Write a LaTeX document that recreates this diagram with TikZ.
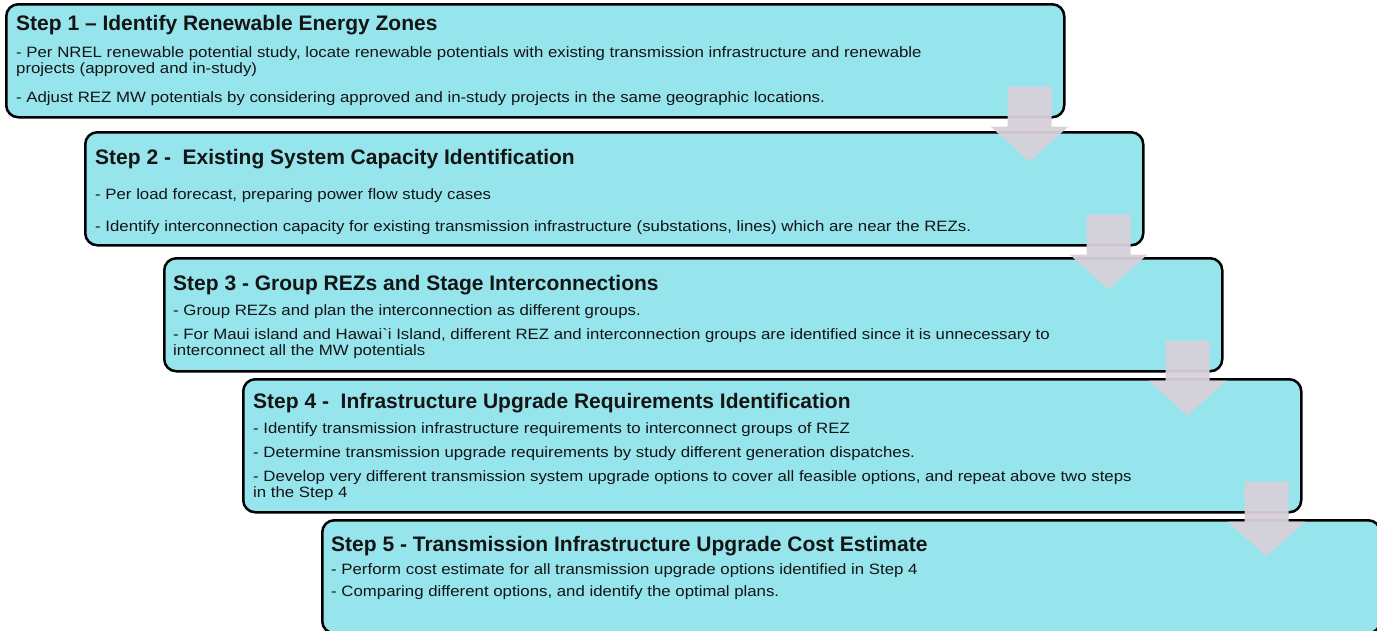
\documentclass[tikz,border=0pt]{standalone}
\usepackage{fontspec}
\setmainfont{Liberation Sans}
\newfontfamily\widebody[FakeStretch=1.12]{Liberation Sans}
\usetikzlibrary{calc}
\definecolor{rezcyan}{RGB}{150,229,237}
\definecolor{arrowgray}{RGB}{215,208,218}
\definecolor{inktext}{RGB}{20,20,20}
\tikzset{
  stepbox/.style={draw=black, line width=2.5pt, fill=rezcyan, rounded corners=12pt, minimum width=1058pt, minimum height=113pt, anchor=north west, inner sep=0pt},
  steptitle/.style={anchor=base west, inner sep=0pt, text=inktext, font=\fontsize{21}{25}\selectfont\bfseries},
  stepline/.style={anchor=base west, inner sep=0pt, text=inktext, font=\widebody\fontsize{15}{18}\selectfont},
  flowarrow/.style={fill=arrowgray, opacity=0.95}
}
\begin{document}
\begin{tikzpicture}[x=1pt,y=-1pt]
\useasboundingbox (0,0) rectangle (1377,630);
% step boxes, stepped down to the right
\node[stepbox] (s1) at (5,3) {};
\node[stepbox] (s2) at (84,131) {};
\node[stepbox] (s3) at (163,257) {};
\node[stepbox, minimum height=133pt] (s4) at (242,378) {};
\node[stepbox] (s5) at (321,519) {};
% step 1
\node[steptitle] (s1t) at (16,30) {Step 1 -- Identify Renewable Energy Zones};
\node[stepline] (s1a) at (16,57) {- Per NREL renewable potential study, locate renewable potentials with existing transmission infrastructure and renewable};
\node[stepline] (s1b) at (16,73) {projects (approved and in-study)};
\node[stepline] (s1c) at (16,102) {- Adjust REZ MW potentials by considering approved and in-study projects in the same geographic locations.};
% step 2
\node[steptitle] (s2t) at (95,164) {Step 2 -\ \ Existing System Capacity Identification};
\node[stepline] (s2a) at (95,199) {- Per load forecast, preparing power flow study cases};
\node[stepline] (s2b) at (95,231) {- Identify interconnection capacity for existing transmission infrastructure (substations, lines) which are near the REZs.};
% step 3
\node[steptitle] (s3t) at (173,290) {Step 3 - Group REZs and Stage Interconnections};
\node[stepline] (s3a) at (173,315) {- Group REZs and plan the interconnection as different groups.};
\node[stepline] (s3b) at (173,339) {- For Maui island and Hawai`i Island, different REZ and interconnection groups are identified since it is unnecessary to};
\node[stepline] (s3c) at (173,355) {interconnect all the MW potentials};
% step 4
\node[steptitle] (s4t) at (253,408) {Step 4 -\ \ Infrastructure Upgrade Requirements Identification};
\node[stepline] (s4a) at (253,433) {- Identify transmission infrastructure requirements to interconnect groups of REZ};
\node[stepline] (s4b) at (253,457) {- Determine transmission upgrade requirements by study different generation dispatches.};
\node[stepline] (s4c) at (253,481) {- Develop very different transmission system upgrade options to cover all feasible options, and repeat above two steps};
\node[stepline] (s4d) at (253,497) {in the Step 4};
% step 5
\node[steptitle] (s5t) at (331,551) {Step 5 - Transmission Infrastructure Upgrade Cost Estimate};
\node[stepline] (s5a) at (331,574) {- Perform cost estimate for all transmission upgrade options identified in Step 4};
\node[stepline] (s5b) at (331,596) {- Comparing different options, and identify the optimal plans.};
% down arrows from each step to the next
\foreach \i in {1,...,4}
  \fill[flowarrow] ($(s\i.south east)+(-58,-32)$) -- ++(44,0) -- ++(0,40) -- ++(17,0) -- ++(-39,35) -- ++(-39,-35) -- ++(17,0) -- cycle;
\end{tikzpicture}
\end{document}
